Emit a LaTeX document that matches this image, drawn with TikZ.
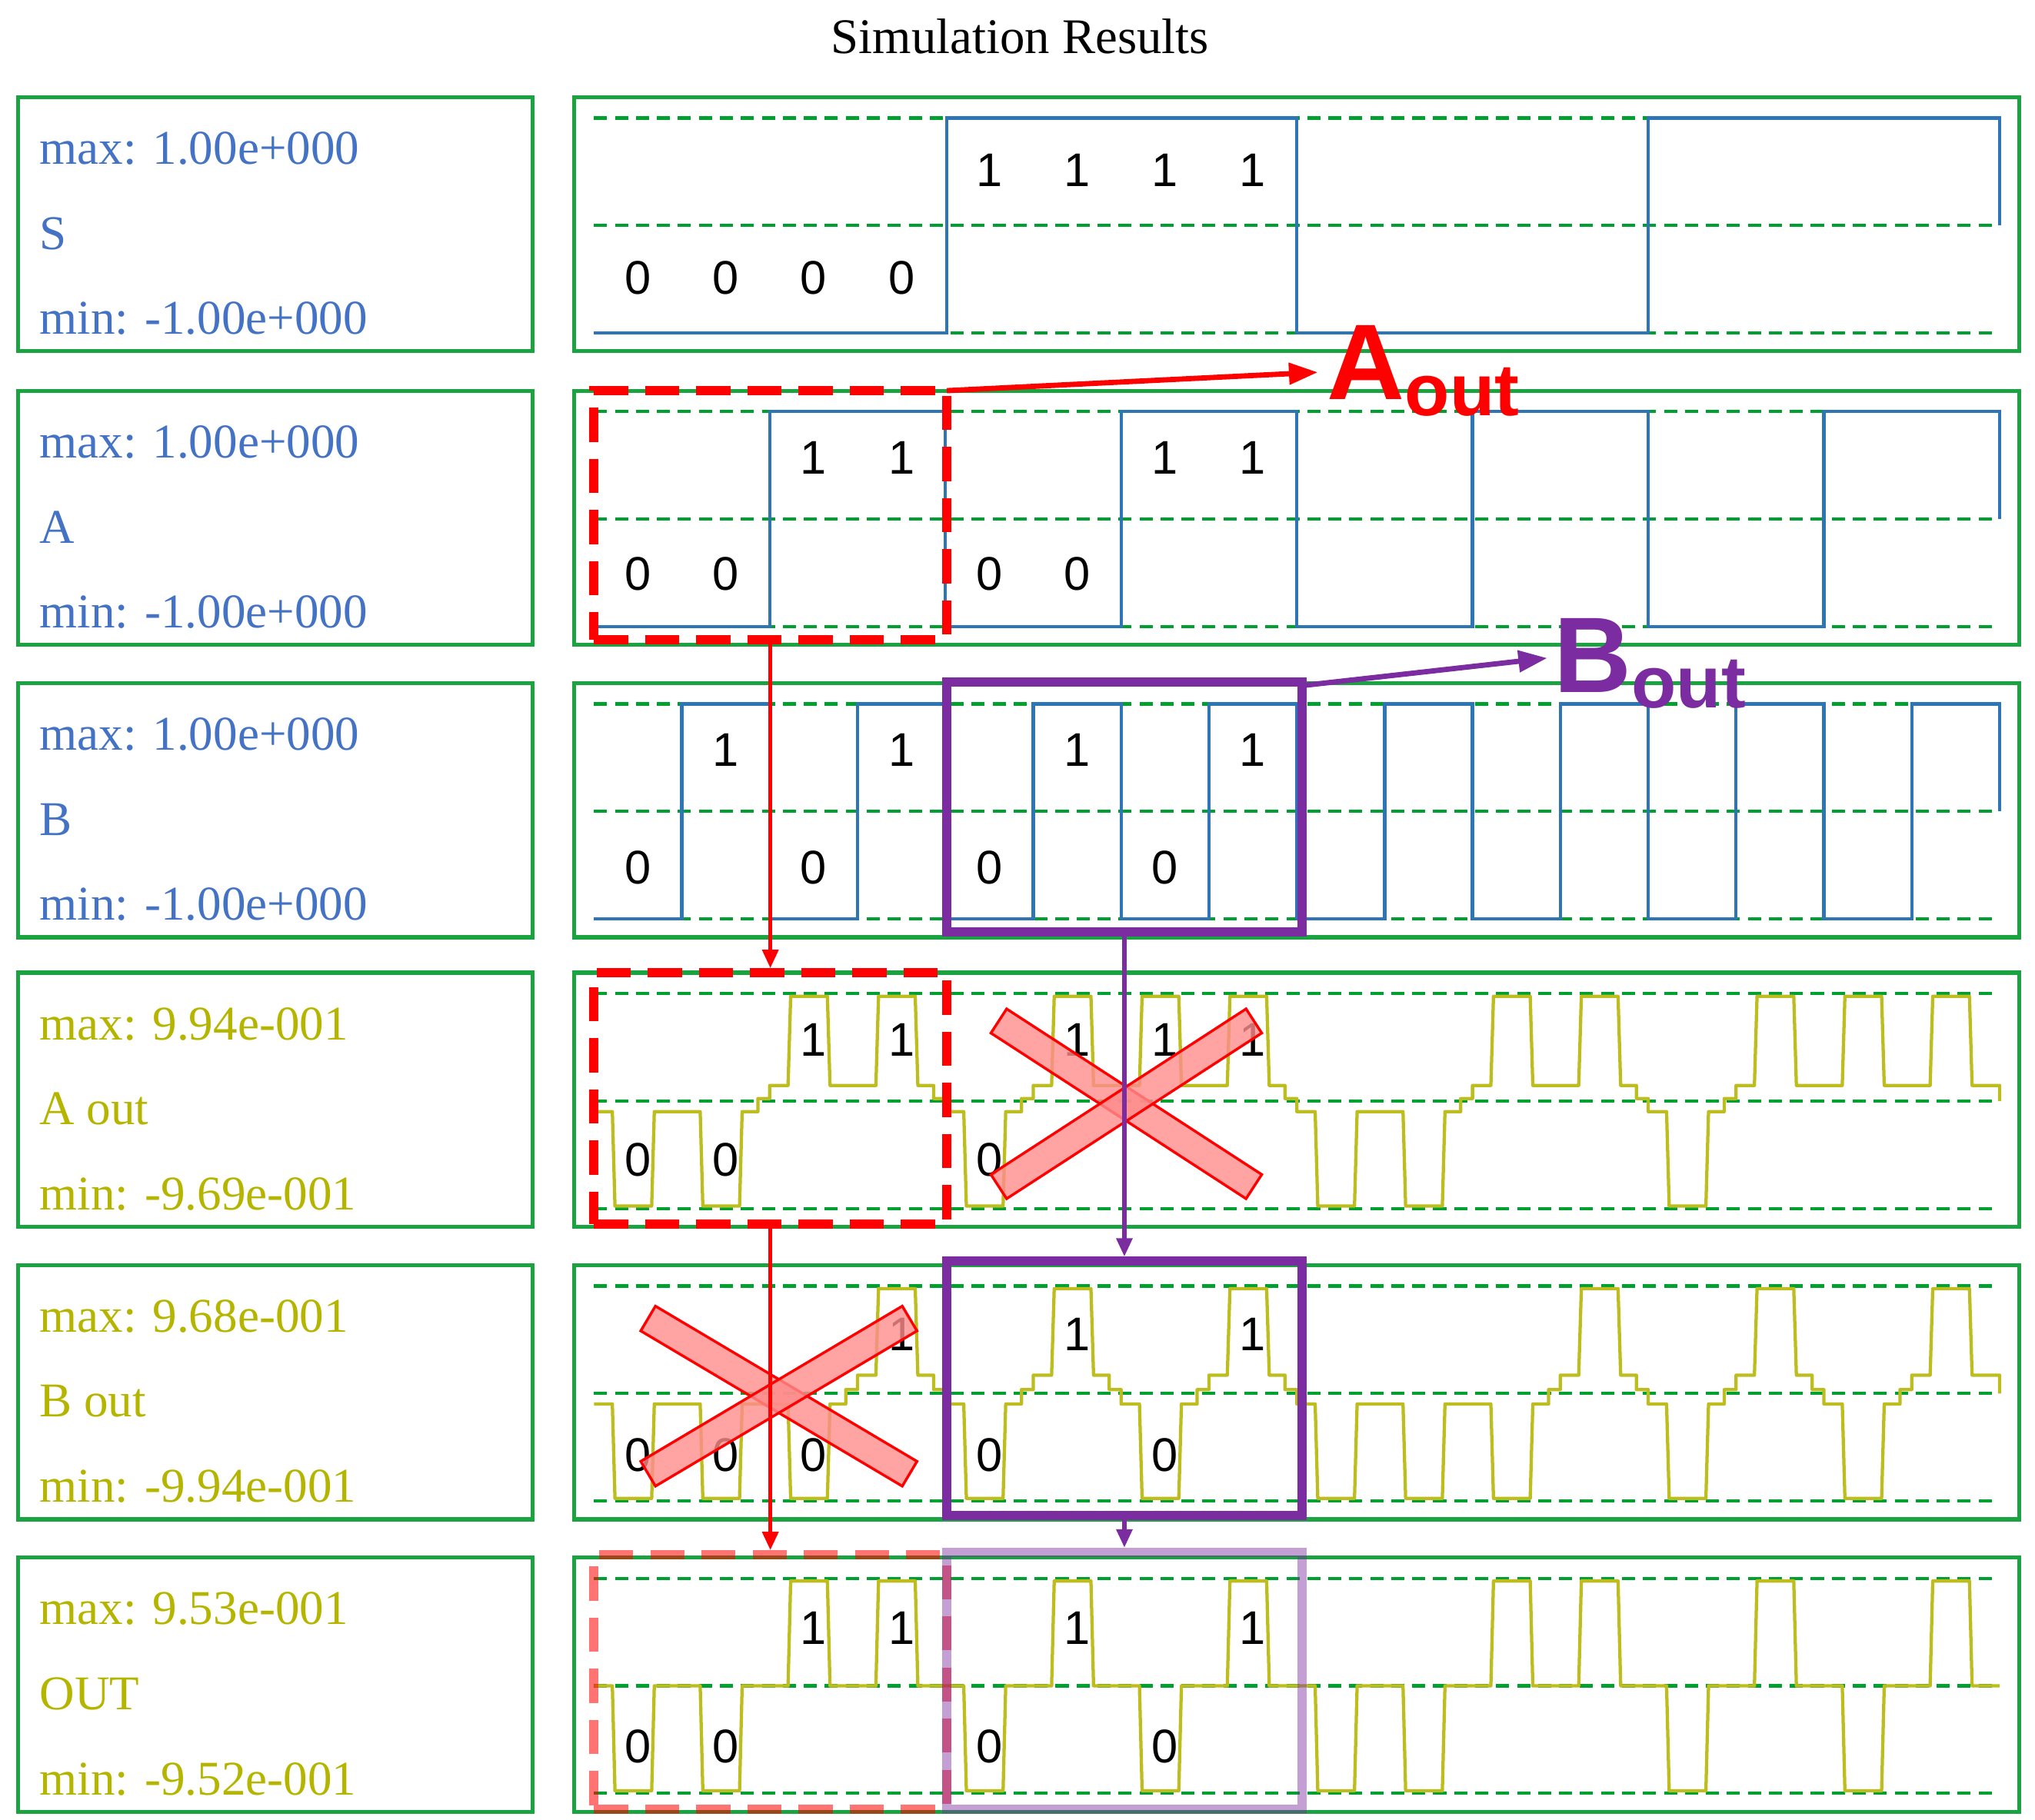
\documentclass[tikz,border=0pt]{standalone}
\usepackage{fontspec}
\setmainfont{Liberation Serif}
\newfontfamily\sansf{Liberation Sans}
\usetikzlibrary{arrows.meta,calc}
\definecolor{gbox}{HTML}{1AA340}
\definecolor{gdsh}{HTML}{00A030}
\definecolor{tblue}{HTML}{4472C4}
\definecolor{wblue}{HTML}{2E75B6}
\definecolor{tyel}{HTML}{B5B500}
\definecolor{wyel}{HTML}{BDBD20}
\definecolor{purp}{HTML}{7B2CA0}
\newcommand\anasig[3]{%
  \draw[ysig] (453,{#1}) \foreach \k/\b/\n [evaluate=\k as \xs using 453+67*\k,
     evaluate=\b as \s using #1-(#1-#2)*\b, evaluate=\b as \e using 178-160*\b,
     evaluate=\n as \sn using #1-(#1-#2)*\n] in {#3}{
     -- (\xs,\s) -- ({\xs+14},\s) -- ({\xs+16},\e) -- ({\xs+44},\e) -- ({\xs+46},\s)
     -- ({\xs+58},\s) -- ({\xs+58},{(\s+\sn)/2}) -- ({\xs+67},{(\s+\sn)/2})} -- (1525,98);}
\begin{document}
\begin{tikzpicture}[x=1pt,y=-1pt,
  lbox/.style={draw=gbox,line width=3pt,minimum width=392pt,minimum height=194pt,inner sep=0pt},
  rbox/.style={draw=gbox,line width=3pt,minimum width=1102pt,minimum height=194pt,inner sep=0pt},
  gdash/.style={draw=gdsh,line width=2.5pt,dash pattern=on 10pt off 6pt},
  bsig/.style={draw=wblue,line width=2.5pt},
  ysig/.style={draw=wyel,line width=2.5pt,line join=round},
  ltxt/.style={anchor=west,font=\fontsize{37}{37}\selectfont,inner sep=0pt},
  dig/.style={font=\sansf\fontsize{36}{36}\selectfont,inner sep=0pt},
  rdash/.style={draw=red,line width=7pt,dash pattern=on 26pt off 13pt},
  prect/.style={draw=purp,line width=7pt},
  xbar/.style={draw=red,line width=2pt,fill=red!45,fill opacity=0.8,minimum width=232pt,minimum height=22pt,inner sep=0pt}]
\useasboundingbox (0,0) rectangle (1552,1388);
\fill[white] (0,0) rectangle (1552,1388);
\node[font=\fontsize{38}{38}\selectfont] (title) at (778,28) {Simulation Results};
\foreach \i/\yy/\nm/\mx/\mn/\col in {1/74/S/1.00e+000/-1.00e+000/tblue,2/298/A/1.00e+000/-1.00e+000/tblue,3/521/B/1.00e+000/-1.00e+000/tblue,4/742/A out/9.94e-001/-9.69e-001/tyel,5/965/B out/9.68e-001/-9.94e-001/tyel,6/1188/OUT/9.53e-001/-9.52e-001/tyel}{
  \node[lbox] (L\i) at (210,\yy+97) {};
  \node[rbox] (R\i) at (989,\yy+97) {};
  \node[ltxt,text=\col] (mx\i) at (30,\yy+39) {max: \mx};
  \node[ltxt,text=\col] (nm\i) at (30,\yy+104) {\nm};
  \node[ltxt,text=\col] (mn\i) at (30,\yy+169) {min: \mn};
  \foreach \d in {16,98,180}{\draw[gdash] (453,\yy+\d) -- (1525,\yy+\d);}
}
% S
\begin{scope}[shift={(0,74)}]
\draw[bsig] (453,180) -- (722,180) -- (722,16) -- (989,16) -- (989,180) -- (1257,180) -- (1257,16) -- (1525,16) -- (1525,98);
\end{scope}
\begin{scope}[shift={(0,298)}]
\draw[bsig] (453,180) -- (587,180) -- (587,16) -- (721,16) -- (721,180) -- (855,180) -- (855,16) -- (989,16) -- (989,180) -- (1123,180) -- (1123,16) -- (1257,16) -- (1257,180) -- (1391,180) -- (1391,16) -- (1525,16) -- (1525,98);
\end{scope}
\begin{scope}[shift={(0,521)}]
\draw[bsig] (453,180) \foreach \k [evaluate=\k as \x using 453+67*\k, evaluate=\k as \ya using {mod(\k,2)==1?180:16}, evaluate=\k as \yb using {mod(\k,2)==1?16:180}] in {1,...,15}{ -- (\x,\ya) -- (\x,\yb)} -- (1525,16) -- (1525,98);
\end{scope}
\begin{scope}[shift={(0,742)}]
\anasig{106}{86}{0/0/0,1/0/1,2/1/1,3/1/0,4/0/1,5/1/1,6/1/1,7/1/0,8/0/0,9/0/1,10/1/1,11/1/0,12/0/1,13/1/1,14/1/1,15/1/1}
\end{scope}
\begin{scope}[shift={(0,965)}]
\anasig{106}{84}{0/0/0,1/0/0,2/0/1,3/1/0,4/0/1,5/1/0,6/0/1,7/1/0,8/0/0,9/0/0,10/0/1,11/1/0,12/0/1,13/1/0,14/0/1,15/1/1}
\end{scope}
\begin{scope}[shift={(0,1188)}]
\anasig{98}{98}{0/0/0,1/0/1,2/1/1,3/1/0,4/0/1,5/1/0,6/0/1,7/1/0,8/0/0,9/0/1,10/1/1,11/1/0,12/0/1,13/1/0,14/0/1,15/1/1}
\end{scope}
% digit labels
\foreach \r/\yy/\hy/\ly/\bits in {S/74/56/138/{0,0,0,0,1,1,1,1},A/298/51/140/{0,0,1,1,0,0,1,1},B/521/51/141/{0,1,0,1,0,1,0,1},Ao/742/51/143/{0,0,1,1,0,1,1,1},Bo/965/53/145/{0,0,0,1,0,1,0,1},O/1188/54/144/{0,0,1,1,0,1,0,1}}{
  \foreach \b [count=\c from 0, evaluate=\b as \ty using {\b==1?\yy+\hy:\yy+\ly}] in \bits{
    \node[dig] (d\r\c) at ({486.5+67*\c},\ty) {\b};
  }
}
% overlays
\node[rdash,minimum width=269pt,minimum height=190pt,inner sep=0pt] (ra1) at (587.5,393) {};
\node[rdash,minimum width=269pt,minimum height=192pt,inner sep=0pt] (ra2) at (587.5,838) {};
\node[rdash,draw opacity=0.55,minimum width=269pt,minimum height=194pt,inner sep=0pt] (ra3) at (587.5,1283) {};
\node[prect,minimum width=271pt,minimum height=191pt,inner sep=0pt] (pb1) at (857.5,615.5) {};
\node[prect,minimum width=271pt,minimum height=194pt,inner sep=0pt] (pb2) at (857.5,1059) {};
\node[prect,draw opacity=0.45,minimum width=271pt,minimum height=196pt,inner sep=0pt] (pb3) at (857.5,1282) {};
\node[xbar,rotate=-33] (x1a) at (859,842) {};
\node[xbar,rotate=33] (x1b) at (859,842) {};
\node[xbar,rotate=-30.7] (x2a) at (594,1065) {};
\node[xbar,rotate=30.7] (x2b) at (594,1065) {};
% labels
\node[anchor=base west,inner sep=0pt,text=red] (aout) at (1012,305) {\sansf\bfseries\fontsize{82}{82}\selectfont A\raisebox{-12pt}{\fontsize{56}{56}\selectfont out}};
\node[anchor=base west,inner sep=0pt,text=purp] (bout) at (1185,528) {\sansf\bfseries\fontsize{82}{82}\selectfont B\raisebox{-12pt}{\fontsize{56}{56}\selectfont out}};
\coordinate (aoc) at (722,298);
\coordinate (aot) at (1005,284);
\coordinate (boc) at (993,523);
\coordinate (bot) at (1180,502);
\draw[red,line width=4pt,-{Triangle[length=22pt,width=16pt]}] (aoc) -- (aot);
\draw[purp,line width=4pt,-{Triangle[length=22pt,width=16pt]}] (boc) -- (bot);
\draw[red,line width=3pt,-{Triangle[length=14pt,width=12pt]}] (ra1.south) -- (ra2.north);
\draw[red,line width=3pt,-{Triangle[length=14pt,width=12pt]}] (ra2.south) -- (ra3.north);
\draw[purp,line width=3pt,-{Triangle[length=14pt,width=12pt]}] (pb1.south) -- (pb2.north);
\draw[purp,line width=3pt,-{Triangle[length=14pt,width=12pt]}] (pb2.south) -- (pb3.north);
\end{tikzpicture}
\end{document}
